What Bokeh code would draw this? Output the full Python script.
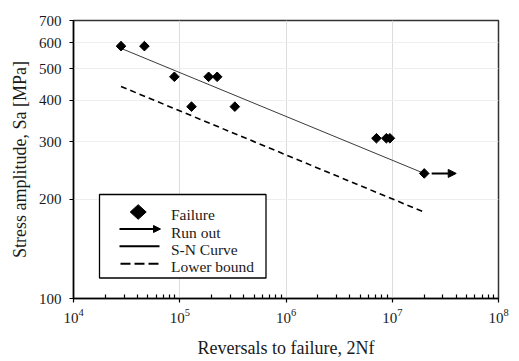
import numpy as np
from bokeh.plotting import figure
from bokeh.models import (Range1d, FixedTicker, LogTickFormatter, PrintfTickFormatter,
                          Arrow, NormalHead, BoxAnnotation, PolyAnnotation, Label,
                          ColumnDataSource)
from bokeh.embed import file_html
from bokeh.resources import INLINE

# ---------------- data ----------------
failure_cycles = [2.8e4, 4.65e4, 8.9e4, 1.29e5, 1.87e5, 2.25e5, 3.3e5, 7.1e6, 8.8e6, 9.5e6]
failure_stress = [585, 585, 472, 383, 472, 472, 383, 307, 307, 307]
runout_cycles = [2.0e7]
runout_stress = [240]
runout_arrow_from = 2.35e7
runout_arrow_to = 4.0e7
sn_cycles = [2.8e4, 2.0e7]
sn_stress = [576, 240]
lower_cycles = [2.8e4, 2.0e7]
lower_stress = [441, 183]
x_ticks = [1e4, 1e5, 1e6, 1e7, 1e8]
y_ticks = [100, 200, 300, 400, 500, 600, 700]
legend_labels = ["Failure", "Run out", "S-N Curve", "Lower bound"]
x_title = "Reversals to failure, 2Nf"
y_title = "Stress amplitude, Sa [MPa]"

FONT = "Liberation Serif"
W, H = 519, 361
FL, FR, FT, FB = 73, 498, 20, 298  # frame edges in canvas pixels


def sx(px):
    return px - FL


def sy(py):
    return FB - py


p = figure(width=W, height=H, x_axis_type="log", y_axis_type="log",
           x_range=Range1d(1e4, 1e8), y_range=Range1d(100, 700),
           min_border_left=FL, min_border_right=W - FR,
           min_border_top=FT, min_border_bottom=H - FB,
           output_backend="svg", toolbar_location=None)
p.background_fill_color = "white"
p.border_fill_color = "white"
p.outline_line_color = "#333333"
p.outline_line_width = 1.5

minor = [k * 10.0 ** e for e in range(4, 8) for k in range(2, 10)]
p.xaxis.ticker = FixedTicker(ticks=x_ticks, minor_ticks=minor)
p.xaxis.formatter = LogTickFormatter()
p.yaxis.ticker = FixedTicker(ticks=y_ticks)
p.yaxis.formatter = PrintfTickFormatter(format="%d")

for ax in (p.xaxis, p.yaxis):
    ax.axis_line_color = "black"
    ax.axis_line_width = 1.5
    ax.major_tick_line_color = "black"
    ax.major_tick_line_width = 1.2
    ax.minor_tick_line_color = "black"
    ax.minor_tick_line_width = 1.2
    ax.major_tick_out = 4
    ax.major_tick_in = 0
    ax.major_label_text_font = FONT
    ax.major_label_text_font_size = "15px"
    ax.major_label_text_color = "#1a1a1a"
    ax.axis_label_text_font = FONT
    ax.axis_label_text_font_style = "normal"
    ax.axis_label_text_color = "#1a1a1a"
p.xaxis.minor_tick_in = 4
p.xaxis.minor_tick_out = 0
p.yaxis.minor_tick_line_color = None
p.xaxis.major_label_standoff = 6
p.yaxis.major_label_standoff = 8
p.xaxis.axis_label = x_title
p.yaxis.axis_label = y_title
p.xaxis.axis_label_text_font_size = "18px"
p.yaxis.axis_label_text_font_size = "18px"
p.xaxis.axis_label_standoff = 12
p.yaxis.axis_label_standoff = 6

p.xgrid.grid_line_color = "#dcdcdc"
p.xgrid.grid_line_width = 1
p.ygrid.grid_line_color = "#eeeeee"
p.ygrid.grid_line_width = 1

# S-N curve and lower bound
p.line(sn_cycles, sn_stress, line_color="#3a3a3a", line_width=1)
p.line(lower_cycles, lower_stress, line_color="black", line_width=1.6, line_dash="6 4")

# failure points
src = ColumnDataSource(dict(x=failure_cycles, y=failure_stress))
p.scatter("x", "y", source=src, marker="square", size=6.8, angle=np.pi / 4,
          fill_color="black", line_color="black")
p.scatter(runout_cycles, runout_stress, marker="square", size=6.8, angle=np.pi / 4,
          fill_color="black", line_color="black")

# run-out arrow
p.add_layout(Arrow(end=NormalHead(size=8, fill_color="black", line_color="black"),
                   x_start=runout_arrow_from, y_start=runout_stress[0],
                   x_end=runout_arrow_to, y_end=runout_stress[0],
                   line_color="black", line_width=2))

# ---------------- legend (drawn by hand) ----------------
p.add_layout(BoxAnnotation(left=sx(99), right=sx(265.5), top=sy(194), bottom=sy(277.5),
                           left_units="screen", right_units="screen",
                           top_units="screen", bottom_units="screen",
                           fill_color="white", fill_alpha=1.0,
                           line_color="black", line_width=1.3, line_alpha=1.0))
cx, cy = 137.7, 211.5
p.add_layout(PolyAnnotation(xs=[sx(cx - 8), sx(cx), sx(cx + 8), sx(cx)],
                            ys=[sy(cy), sy(cy - 7.3), sy(cy), sy(cy + 7.3)],
                            xs_units="screen", ys_units="screen",
                            fill_color="black", fill_alpha=1.0,
                            line_color="black", line_alpha=1.0, line_width=1))
p.add_layout(Arrow(end=NormalHead(size=7, fill_color="black", line_color="black"),
                   x_start=sx(119), y_start=sy(228.5), x_end=sx(160), y_end=sy(228.5),
                   start_units="screen", end_units="screen",
                   line_color="black", line_width=2))
p.add_layout(Arrow(end=None, x_start=sx(119), y_start=sy(245.7), x_end=sx(159), y_end=sy(245.7),
                   start_units="screen", end_units="screen",
                   line_color="black", line_width=2))
p.add_layout(Arrow(end=None, x_start=sx(120), y_start=sy(263.3), x_end=sx(159), y_end=sy(263.3),
                   start_units="screen", end_units="screen",
                   line_color="black", line_width=2, line_dash="10 4"))
for lab, base in zip(legend_labels, [214, 231.5, 248.5, 266]):
    p.add_layout(Label(x=sx(170.5), y=sy(base), x_units="screen", y_units="screen",
                       text=lab, text_font=FONT, text_font_size="15.5px",
                       text_color="#1a1a1a", text_baseline="alphabetic", text_align="left"))

open("out.html", "w").write(file_html(p, INLINE))
